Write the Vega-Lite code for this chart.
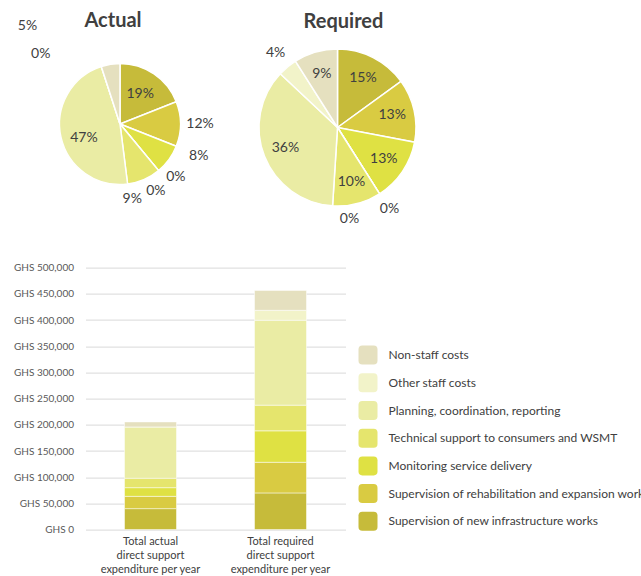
{
  "$schema": "https://vega.github.io/schema/vega-lite/v6.json",
  "padding": {"left": 13.5, "top": 11, "right": 0, "bottom": 0},
  "background": "white",
  "config": {
    "view": {"stroke": null},
    "font": "Lato",
    "text": {"fontSize": 14, "font": "Lato", "color": "#404040"}
  },
  "datasets": {
    "pies": [
      {"pie": "Actual", "cat": "Supervision of new infrastructure works", "k": 1, "share": 0.19},
      {"pie": "Actual", "cat": "Supervision of rehabilitation and expansion works", "k": 2, "share": 0.12},
      {"pie": "Actual", "cat": "Monitoring service delivery", "k": 3, "share": 0.08},
      {"pie": "Actual", "cat": "Unlabelled category 1", "k": 4, "share": 0},
      {"pie": "Actual", "cat": "Unlabelled category 2", "k": 5, "share": 0},
      {"pie": "Actual", "cat": "Technical support to consumers and WSMT", "k": 6, "share": 0.09},
      {"pie": "Actual", "cat": "Planning, coordination, reporting", "k": 7, "share": 0.47},
      {"pie": "Actual", "cat": "Other staff costs", "k": 8, "share": 0},
      {"pie": "Actual", "cat": "Non-staff costs", "k": 9, "share": 0.05},
      {"pie": "Required", "cat": "Supervision of new infrastructure works", "k": 1, "share": 0.15},
      {"pie": "Required", "cat": "Supervision of rehabilitation and expansion works", "k": 2, "share": 0.13},
      {"pie": "Required", "cat": "Monitoring service delivery", "k": 3, "share": 0.13},
      {"pie": "Required", "cat": "Unlabelled category 1", "k": 4, "share": 0},
      {"pie": "Required", "cat": "Unlabelled category 2", "k": 5, "share": 0},
      {"pie": "Required", "cat": "Technical support to consumers and WSMT", "k": 6, "share": 0.10},
      {"pie": "Required", "cat": "Planning, coordination, reporting", "k": 7, "share": 0.36},
      {"pie": "Required", "cat": "Other staff costs", "k": 8, "share": 0.04},
      {"pie": "Required", "cat": "Non-staff costs", "k": 9, "share": 0.09}
    ],
    "bars": [
      {"bar": "Total actual direct support expenditure per year", "cat": "Supervision of new infrastructure works", "k": 1, "value": 40000},
      {"bar": "Total actual direct support expenditure per year", "cat": "Supervision of rehabilitation and expansion works", "k": 2, "value": 23500},
      {"bar": "Total actual direct support expenditure per year", "cat": "Monitoring service delivery", "k": 3, "value": 16500},
      {"bar": "Total actual direct support expenditure per year", "cat": "Technical support to consumers and WSMT", "k": 6, "value": 18000},
      {"bar": "Total actual direct support expenditure per year", "cat": "Planning, coordination, reporting", "k": 7, "value": 98000},
      {"bar": "Total actual direct support expenditure per year", "cat": "Other staff costs", "k": 8, "value": 0},
      {"bar": "Total actual direct support expenditure per year", "cat": "Non-staff costs", "k": 9, "value": 9500},
      {"bar": "Total required direct support expenditure per year", "cat": "Supervision of new infrastructure works", "k": 1, "value": 70000},
      {"bar": "Total required direct support expenditure per year", "cat": "Supervision of rehabilitation and expansion works", "k": 2, "value": 58500},
      {"bar": "Total required direct support expenditure per year", "cat": "Monitoring service delivery", "k": 3, "value": 60000},
      {"bar": "Total required direct support expenditure per year", "cat": "Technical support to consumers and WSMT", "k": 6, "value": 49000},
      {"bar": "Total required direct support expenditure per year", "cat": "Planning, coordination, reporting", "k": 7, "value": 162000},
      {"bar": "Total required direct support expenditure per year", "cat": "Other staff costs", "k": 8, "value": 19000},
      {"bar": "Total required direct support expenditure per year", "cat": "Non-staff costs", "k": 9, "value": 38000}
    ]
  },
  "spacing": 35.6,
  "resolve": {"scale": {"color": "independent", "theta": "independent"}},
  "vconcat": [
    {
      "spacing": 41.5,
      "hconcat": [
        {
          "width": 69,
          "height": 166,
          "title": {"text": "Actual", "fontSize": 20, "fontWeight": "bold", "font": "Lato", "color": "#404040", "anchor": "middle", "frame": "group", "offset": -28.4, "baseline": "alphabetic", "dx": -7},
          "data": {"name": "pies"},
          "transform": [
            {"filter": "datum.pie == 'Actual'"},
            {"stack": "share", "groupby": [], "sort": [{"field": "k", "order": "ascending"}], "as": ["a0", "a1"]}
          ],
          "layer": [
            {
              "mark": {"type": "arc", "radius": 60.5, "stroke": "white", "strokeWidth": 1.5},
              "encoding": {
                "theta": {"field": "a0", "type": "quantitative", "scale": {"domain": [0, 1]}},
                "theta2": {"field": "a1"},
                "color": {"field": "cat", "type": "nominal", "legend": null,
                  "scale": {"domain": ["Supervision of new infrastructure works", "Supervision of rehabilitation and expansion works", "Monitoring service delivery", "Unlabelled category 1", "Unlabelled category 2", "Technical support to consumers and WSMT", "Planning, coordination, reporting", "Other staff costs", "Non-staff costs"],
                    "range": ["#c6bb3a", "#d9cb42", "#dfe143", "#dfe143", "#e5e56d", "#e5e56d", "#eaeca4", "#f2f3c9", "#e5e0bf"]}}
              }
            },
            {
              "transform": [{"fold": ["a0", "a1"], "as": ["edge", "ang"]}, {"aggregate": [{"op": "mean", "field": "ang", "as": "mid"}], "groupby": ["k", "share"]}, {"filter": "datum.k == 1"}],
              "mark": {"type": "text", "radius": 36},
              "encoding": {"theta": {"field": "mid", "type": "quantitative", "stack": null, "scale": {"domain": [0, 1]}}, "text": {"field": "share", "format": ".0%"}}
            },
            {
              "transform": [{"fold": ["a0", "a1"], "as": ["edge", "ang"]}, {"aggregate": [{"op": "mean", "field": "ang", "as": "mid"}], "groupby": ["k", "share"]}, {"filter": "datum.k == 7"}],
              "mark": {"type": "text", "radius": 37, "dy": 6},
              "encoding": {"theta": {"field": "mid", "type": "quantitative", "stack": null, "scale": {"domain": [0, 1]}}, "text": {"field": "share", "format": ".0%"}}
            },
            {
              "transform": [{"fold": ["a0", "a1"], "as": ["edge", "ang"]}, {"aggregate": [{"op": "mean", "field": "ang", "as": "mid"}], "groupby": ["k", "share"]}, {"filter": "datum.k == 2"}],
              "mark": {"type": "text", "radius": 80},
              "encoding": {"theta": {"field": "mid", "type": "quantitative", "stack": null, "scale": {"domain": [0, 1]}}, "text": {"field": "share", "format": ".0%"}}
            },
            {
              "transform": [{"fold": ["a0", "a1"], "as": ["edge", "ang"]}, {"aggregate": [{"op": "mean", "field": "ang", "as": "mid"}], "groupby": ["k", "share"]}, {"filter": "datum.k == 3"}],
              "mark": {"type": "text", "radius": 80, "dx": 14, "dy": -15},
              "encoding": {"theta": {"field": "mid", "type": "quantitative", "stack": null, "scale": {"domain": [0, 1]}}, "text": {"field": "share", "format": ".0%"}}
            },
            {
              "transform": [{"fold": ["a0", "a1"], "as": ["edge", "ang"]}, {"aggregate": [{"op": "mean", "field": "ang", "as": "mid"}], "groupby": ["k", "share"]}, {"filter": "datum.k == 4"}],
              "mark": {"type": "text", "radius": 72, "dx": 10, "dy": -2},
              "encoding": {"theta": {"field": "mid", "type": "quantitative", "stack": null, "scale": {"domain": [0, 1]}}, "text": {"field": "share", "format": ".0%"}}
            },
            {
              "transform": [{"fold": ["a0", "a1"], "as": ["edge", "ang"]}, {"aggregate": [{"op": "mean", "field": "ang", "as": "mid"}], "groupby": ["k", "share"]}, {"filter": "datum.k == 5"}],
              "mark": {"type": "text", "radius": 72, "dx": -10, "dy": 12},
              "encoding": {"theta": {"field": "mid", "type": "quantitative", "stack": null, "scale": {"domain": [0, 1]}}, "text": {"field": "share", "format": ".0%"}}
            },
            {
              "transform": [{"fold": ["a0", "a1"], "as": ["edge", "ang"]}, {"aggregate": [{"op": "mean", "field": "ang", "as": "mid"}], "groupby": ["k", "share"]}, {"filter": "datum.k == 6"}],
              "mark": {"type": "text", "radius": 76, "dx": -18, "dy": 5},
              "encoding": {"theta": {"field": "mid", "type": "quantitative", "stack": null, "scale": {"domain": [0, 1]}}, "text": {"field": "share", "format": ".0%"}}
            },
            {
              "transform": [{"fold": ["a0", "a1"], "as": ["edge", "ang"]}, {"aggregate": [{"op": "mean", "field": "ang", "as": "mid"}], "groupby": ["k", "share"]}, {"filter": "datum.k == 8"}],
              "mark": {"type": "text", "radius": 72, "dx": -57, "dy": -2},
              "encoding": {"theta": {"field": "mid", "type": "quantitative", "stack": null, "scale": {"domain": [0, 1]}}, "text": {"field": "share", "format": ".0%"}}
            },
            {
              "transform": [{"fold": ["a0", "a1"], "as": ["edge", "ang"]}, {"aggregate": [{"op": "mean", "field": "ang", "as": "mid"}], "groupby": ["k", "share"]}, {"filter": "datum.k == 9"}],
              "mark": {"type": "text", "radius": 88, "dx": -78.7, "dy": -11},
              "encoding": {"theta": {"field": "mid", "type": "quantitative", "stack": null, "scale": {"domain": [0, 1]}}, "text": {"field": "share", "format": ".0%"}}
            }
          ]
        },
        {
          "width": 157,
          "height": 173,
          "title": {"text": "Required", "fontSize": 20, "fontWeight": "bold", "font": "Lato", "color": "#404040", "anchor": "middle", "frame": "group", "offset": -6.5, "baseline": "alphabetic", "dx": 6},
          "data": {"name": "pies"},
          "transform": [
            {"filter": "datum.pie == 'Required'"},
            {"stack": "share", "groupby": [], "sort": [{"field": "k", "order": "ascending"}], "as": ["a0", "a1"]}
          ],
          "layer": [
            {
              "mark": {"type": "arc", "radius": 78.5, "stroke": "white", "strokeWidth": 1.5},
              "encoding": {
                "theta": {"field": "a0", "type": "quantitative", "scale": {"domain": [0, 1]}},
                "theta2": {"field": "a1"},
                "color": {"field": "cat", "type": "nominal", "legend": null,
                  "scale": {"domain": ["Supervision of new infrastructure works", "Supervision of rehabilitation and expansion works", "Monitoring service delivery", "Unlabelled category 1", "Unlabelled category 2", "Technical support to consumers and WSMT", "Planning, coordination, reporting", "Other staff costs", "Non-staff costs"],
                    "range": ["#c6bb3a", "#d9cb42", "#dfe143", "#dfe143", "#e5e56d", "#e5e56d", "#eaeca4", "#f2f3c9", "#e5e0bf"]}}
              }
            },
            {
              "transform": [{"fold": ["a0", "a1"], "as": ["edge", "ang"]}, {"aggregate": [{"op": "mean", "field": "ang", "as": "mid"}], "groupby": ["k", "share"]}, {"filter": "datum.share > 0.05"}],
              "mark": {"type": "text", "radius": 56},
              "encoding": {"theta": {"field": "mid", "type": "quantitative", "stack": null, "scale": {"domain": [0, 1]}}, "text": {"field": "share", "format": ".0%"}}
            },
            {
              "transform": [{"fold": ["a0", "a1"], "as": ["edge", "ang"]}, {"aggregate": [{"op": "mean", "field": "ang", "as": "mid"}], "groupby": ["k", "share"]}, {"filter": "datum.k == 4 || datum.k == 8"}],
              "mark": {"type": "text", "radius": 97},
              "encoding": {"theta": {"field": "mid", "type": "quantitative", "stack": null, "scale": {"domain": [0, 1]}}, "text": {"field": "share", "format": ".0%"}}
            },
            {
              "transform": [{"fold": ["a0", "a1"], "as": ["edge", "ang"]}, {"aggregate": [{"op": "mean", "field": "ang", "as": "mid"}], "groupby": ["k", "share"]}, {"filter": "datum.k == 5"}],
              "mark": {"type": "text", "radius": 97, "dx": -40, "dy": 10},
              "encoding": {"theta": {"field": "mid", "type": "quantitative", "stack": null, "scale": {"domain": [0, 1]}}, "text": {"field": "share", "format": ".0%"}}
            }
          ]
        }
      ]
    },
    {
      "width": 260,
      "height": 262,
      "data": {"name": "bars"},
      "mark": {"type": "bar", "stroke": "white", "strokeWidth": 0.5},
      "encoding": {
        "x": {"field": "bar", "type": "nominal", "sort": null,
          "scale": {"paddingInner": 0.6, "paddingOuter": 0.3},
          "axis": {"title": null, "labelAngle": 0, "domain": false, "ticks": false, "labelPadding": 6,
            "labelFont": "Lato", "labelFontSize": 11, "labelColor": "#404040", "labelLineHeight": 14,
            "labelExpr": "[indexof(datum.label, 'actual') > 0 ? 'Total actual' : 'Total required', 'direct support', 'expenditure per year']"}},
        "y": {"field": "value", "type": "quantitative", "stack": "zero",
          "scale": {"domain": [0, 500000]},
          "axis": {"title": null, "domain": false, "ticks": false, "labelPadding": 12,
            "values": [0, 50000, 100000, 150000, 200000, 250000, 300000, 350000, 400000, 450000, 500000],
            "labelExpr": "'GHS ' + format(datum.value, ',')",
            "labelFont": "Lato", "labelFontSize": 10, "labelColor": "#595959",
            "gridColor": "#d9d9d9", "gridWidth": 1}},
        "color": {"field": "cat", "type": "nominal",
          "scale": {"domain": ["Non-staff costs", "Other staff costs", "Planning, coordination, reporting", "Technical support to consumers and WSMT", "Monitoring service delivery", "Supervision of rehabilitation and expansion works", "Supervision of new infrastructure works"],
            "range": ["#e5e0bf", "#f2f3c9", "#eaeca4", "#e5e56d", "#dfe143", "#d9cb42", "#c6bb3a"]},
          "legend": {"title": null, "orient": "none", "legendX": 273, "legendY": 78, "padding": 0,
            "symbolType": "M-0.6,-1L0.6,-1Q1,-1,1,-0.6L1,0.6Q1,1,0.6,1L-0.6,1Q-1,1,-1,0.6L-1,-0.6Q-1,-1,-0.6,-1Z",
            "symbolSize": 361, "symbolStrokeWidth": 0, "symbolOpacity": 1,
            "labelFont": "Lato", "labelFontSize": 12, "labelColor": "#404040", "labelOffset": 11,
            "rowPadding": 8.7, "labelLimit": 400}},
        "order": {"field": "k", "type": "quantitative"}
      }
    }
  ]
}
